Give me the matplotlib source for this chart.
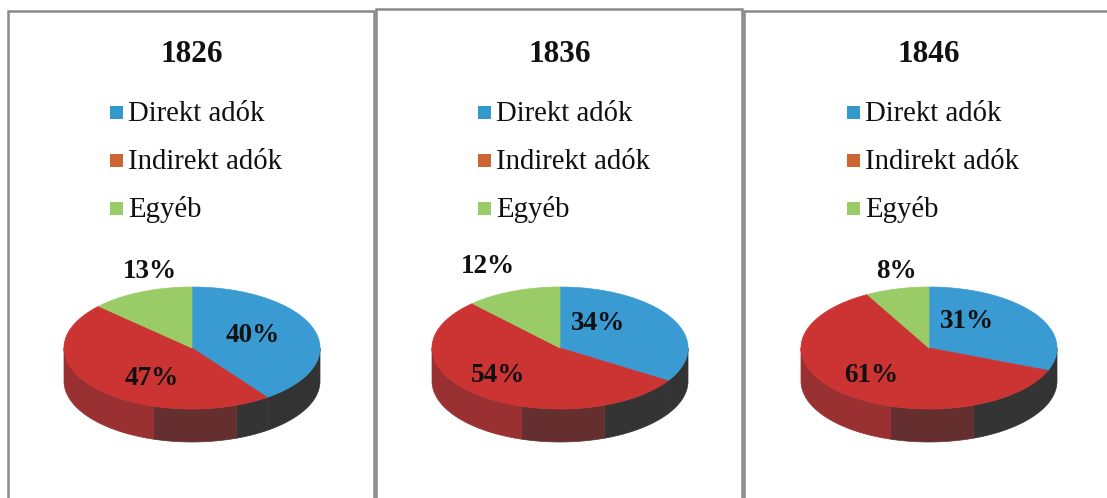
import numpy as np
import matplotlib
matplotlib.use("Agg")
import matplotlib.pyplot as plt
from matplotlib.patches import Polygon, Rectangle

# ---------------- data ----------------
years = ["1826", "1836", "1846"]
categories = ["Direkt adók", "Indirekt adók", "Egyéb"]
direkt = [40, 34, 31]
indirekt = [47, 54, 61]
egyeb = [13, 12, 8]

# ---------------- style / layout ----------------
top_colors = ["#3a9ad2", "#cc3333", "#99cc66"]
legend_colors = ["#3399cc", "#cc6633", "#99cc66"]
# side shading bands (right, middle, left) per category
side_colors = [
    ["#333333", "#24506e", "#2d76a3"],
    ["#343434", "#652f30", "#993031"],
    ["#3b4a2c", "#5d7a3e", "#779f4f"],
]
band_edges = [90, 159.5, 197.5, 270]

W, H = 1107, 498
panel_x = [(8, 374), (376, 742), (744, 1112)]
panel_top = [11, 9, 11]
rx, ry, depth = 128, 61, 33
pie_cy = 348
# label offsets (dx, baseline dy) relative to pie centre, per panel & slice
label_offsets = [
    [(61, -6), (-40, 37), (-42, -70)],
    [(38, -18), (-62, 34), (-72, -75)],
    [(38, -20), (-58, 34), (-33, -70)],
]
serif = ["Liberation Serif", "DejaVu Serif"]

fig = plt.figure(figsize=(W / 100, H / 100), dpi=100)
ax = fig.add_axes([0, 0, 1, 1])
ax.set_xlim(0, W)
ax.set_ylim(H, 0)
ax.axis("off")


def ell(cx, cy, phis):
    p = np.radians(phis)
    return cx + rx * np.sin(p), cy - ry * np.cos(p)


for i, year in enumerate(years):
    x0, x1 = panel_x[i]
    ax.add_patch(Rectangle((x0, panel_top[i]), x1 - x0, H + 20 - panel_top[i],
                           facecolor="white", edgecolor="#8a8a8a", lw=1.8,
                           zorder=1))
    cx = (x0 + x1) / 2 + 1
    ax.text(cx, 62, year, ha="center", va="baseline", fontsize=22.5,
            fontweight="bold", family=serif, color="#111111", zorder=5)
    # legend
    for k, cat in enumerate(categories):
        yb = 121 + 48 * k
        ax.add_patch(Rectangle((cx - 82, yb - 15), 13, 13,
                               facecolor=legend_colors[k], edgecolor="none",
                               zorder=5))
        ax.text(cx - 64, yb, cat, ha="left", va="baseline", fontsize=20.7,
                family=serif, color="#111111", zorder=5)

    vals = [direkt[i], indirekt[i], egyeb[i]]
    total = float(sum(vals))
    starts = np.concatenate([[0], np.cumsum(vals)[:-1]]) / total * 360
    ends = np.cumsum(vals) / total * 360

    # side walls (front half only)
    for k in range(3):
        a, b = starts[k], ends[k]
        for bi in range(3):
            lo = max(a, band_edges[bi])
            hi = min(b, band_edges[bi + 1])
            if hi <= lo:
                continue
            ph = np.linspace(lo, hi, 60)
            xs, ys = ell(cx, pie_cy, ph)
            pts = np.column_stack([np.concatenate([xs, xs[::-1]]),
                                   np.concatenate([ys, ys[::-1] + depth])])
            ax.add_patch(Polygon(pts, closed=True, facecolor=side_colors[k][bi],
                                 edgecolor=side_colors[k][bi], lw=0.5, zorder=2))
    # top faces
    for k in range(3):
        ph = np.linspace(starts[k], ends[k], 120)
        xs, ys = ell(cx, pie_cy, ph)
        pts = np.column_stack([np.concatenate([[cx], xs]),
                               np.concatenate([[pie_cy], ys])])
        ax.add_patch(Polygon(pts, closed=True, facecolor=top_colors[k],
                             edgecolor=top_colors[k], lw=0.5, zorder=3))
    # labels
    for k in range(3):
        dx, dy = label_offsets[i][k]
        ax.text(cx + dx, pie_cy + dy, f"{vals[k]}%", ha="center",
                va="baseline", fontsize=19.5, fontweight="bold",
                family=serif, color="#111111", zorder=6)

fig.savefig("out.png", dpi=100)
